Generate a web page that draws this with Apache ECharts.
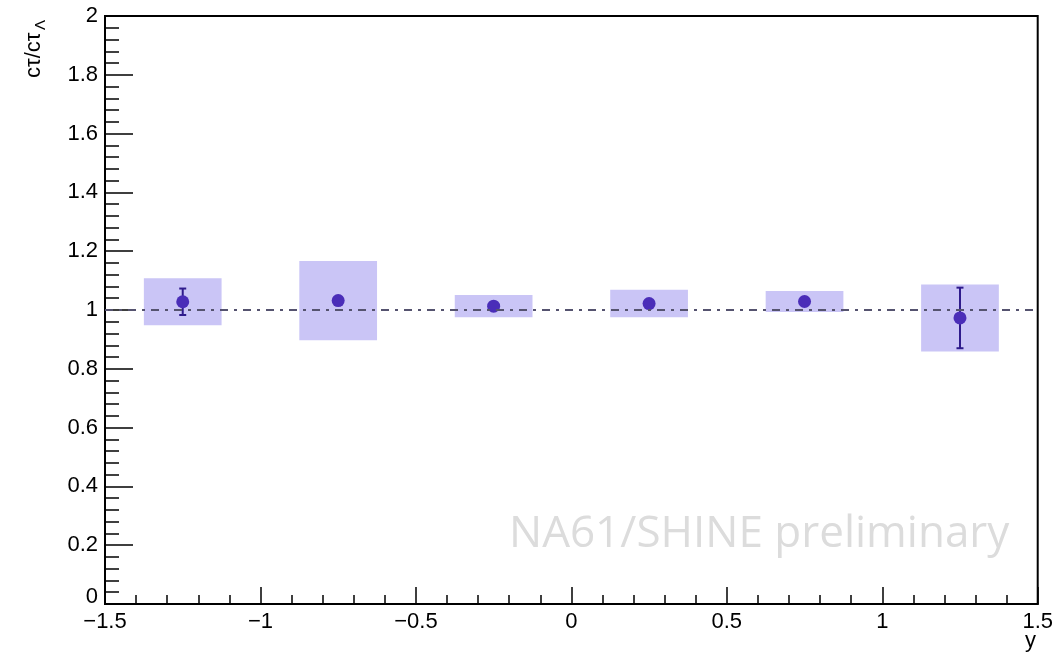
<!DOCTYPE html>
<html>
<head>
<meta charset="utf-8">
<script src="https://cdn.jsdelivr.net/npm/echarts@6/dist/echarts.min.js"></script>
<style>html,body{margin:0;padding:0;background:#fff}#c{width:1056px;height:655px}</style>
</head>
<body>
<div id="c"></div>
<script>
// Data
var binCenters = [-1.25, -0.75, -0.25, 0.25, 0.75, 1.25];
var binHalfWidth = [0.125, 0.125, 0.125, 0.125, 0.125, 0.125];
var ratioValues = [1.028, 1.032, 1.013, 1.022, 1.029, 0.973];
var statErrors = [0.045, 0.02, 0.015, 0.012, 0.01, 0.103];
var systErrors = [0.08, 0.135, 0.038, 0.047, 0.036, 0.114];
var referenceLevel = [1];
var xTicks = [-1.5, -1, -0.5, 0, 0.5, 1, 1.5];
var yTicks = [0, 0.2, 0.4, 0.6, 0.8, 1, 1.2, 1.4, 1.6, 1.8, 2];

var boxData = binCenters.map(function (x, i) {
  return [x, ratioValues[i], systErrors[i], binHalfWidth[i]];
});
var errData = binCenters.map(function (x, i) {
  return [x, ratioValues[i], statErrors[i]];
});
var pointData = binCenters.map(function (x, i) { return [x, ratioValues[i]]; });

var FONT = 'Liberation Sans, Arial, sans-serif';
var MARKER_R = 6.5;
var FS = 22;

var chart = echarts.init(document.getElementById('c'), null, {renderer: 'canvas'});
chart.setOption({
  animation: false,
  backgroundColor: '#fff',
  grid: {left: 105, right: 16, top: 16, bottom: 51, show: true, borderColor: '#000', borderWidth: 2, backgroundColor: 'transparent'},
  xAxis: {
    type: 'value', min: xTicks[0], max: xTicks[xTicks.length - 1], interval: 0.5,
    axisLine: {show: true, onZero: false, lineStyle: {color: '#000', width: 2}},
    axisTick: {show: true, inside: true, length: 17, lineStyle: {color: '#000', width: 1.5}},
    minorTick: {show: true, splitNumber: 5, length: 9, lineStyle: {color: '#000', width: 1.5}},
    splitLine: {show: false}, minorSplitLine: {show: false},
    axisLabel: {color: '#000', fontSize: FS, fontFamily: FONT, margin: 7,
      showMinLabel: true, showMaxLabel: true,
      formatter: function (v) { return String(v).replace('-', '\u2212'); }}
  },
  yAxis: {
    type: 'value', min: yTicks[0], max: yTicks[yTicks.length - 1], interval: 0.2,
    axisLine: {show: true, onZero: false, lineStyle: {color: '#000', width: 2}},
    axisTick: {show: true, inside: true, length: 28, lineStyle: {color: '#000', width: 1.5}},
    minorTick: {show: true, splitNumber: 5, length: 14, lineStyle: {color: '#000', width: 1.5}},
    splitLine: {show: false}, minorSplitLine: {show: false},
    axisLabel: {color: '#000', fontSize: FS, fontFamily: FONT, margin: 7,
      formatter: function (v) { return v === 0 ? '{z|0}' : String(Math.round(v * 10) / 10); },
      rich: {z: {fontSize: FS, fontFamily: FONT, color: '#000', padding: [0, 0, 14, 0]}}}
  },
  series: [
    {
      type: 'custom', z: 1, data: boxData,
      renderItem: function (params, api) {
        var x = api.value(0), v = api.value(1), s = api.value(2), hw = api.value(3);
        var p1 = api.coord([x - hw, v + s]);
        var p2 = api.coord([x + hw, v - s]);
        return {type: 'rect', shape: {x: p1[0], y: p1[1], width: p2[0] - p1[0], height: p2[1] - p1[1]},
          style: {fill: '#cac5f6'}};
      }
    },
    {
      type: 'scatter', z: 2, data: [], symbolSize: 0,
      markLine: {
        silent: true, symbol: 'none', label: {show: false},
        lineStyle: {color: '#55536f', width: 2, type: [8, 6, 3, 6]},
        data: [{yAxis: referenceLevel[0]}]
      }
    },
    {
      type: 'custom', z: 3, data: errData,
      renderItem: function (params, api) {
        var x = api.value(0), v = api.value(1), e = api.value(2);
        var top = api.coord([x, v + e]);
        var bot = api.coord([x, v - e]);
        var c = api.coord([x, v]);
        var children = [];
        var style = {stroke: '#2f1b8c', lineWidth: 2};
        if (c[1] - top[1] > MARKER_R + 1) {
          children.push({type: 'line', shape: {x1: top[0], y1: top[1], x2: top[0], y2: c[1]}, style: style});
          children.push({type: 'line', shape: {x1: top[0] - 3.5, y1: top[1], x2: top[0] + 3.5, y2: top[1]}, style: style});
          children.push({type: 'line', shape: {x1: bot[0], y1: c[1], x2: bot[0], y2: bot[1]}, style: style});
          children.push({type: 'line', shape: {x1: bot[0] - 3.5, y1: bot[1], x2: bot[0] + 3.5, y2: bot[1]}, style: style});
        }
        return {type: 'group', children: children};
      }
    },
    {
      type: 'scatter', z: 4, data: pointData, symbol: 'circle', symbolSize: MARKER_R * 2,
      itemStyle: {color: '#4a2db8', opacity: 1}
    }
  ],
  graphic: [
    {type: 'text', left: 509, top: 512, z: 0,
      style: {text: 'NA61/SHINE preliminary', fill: '#dcdcdc', fontSize: 44, fontFamily: 'Open Sans, sans-serif'}},
    {type: 'text', x: 1025, y: 630,
      style: {text: 'y', fill: '#000', fontSize: FS, fontFamily: FONT}},
    {type: 'group', x: 34, y: 78, rotation: Math.PI / 2, children: [
      {type: 'text', x: 0, y: 0, style: {text: 'c\u03c4/c\u03c4', fill: '#000', fontSize: 22, fontFamily: FONT, textVerticalAlign: 'middle', textAlign: 'left'}},
      {type: 'text', x: 48, y: 7, style: {text: '\u039b', fill: '#000', fontSize: 15, fontFamily: FONT, textVerticalAlign: 'middle', textAlign: 'left'}}
    ]}
  ]
});
</script>
</body>
</html>
